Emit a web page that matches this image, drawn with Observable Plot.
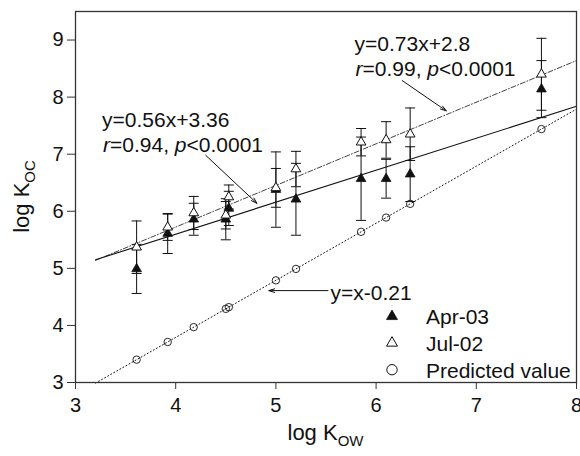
<!DOCTYPE html>
<html><head><meta charset="utf-8">
<script src="https://cdn.jsdelivr.net/npm/d3@7"></script>
<script src="https://cdn.jsdelivr.net/npm/@observablehq/plot@0.6"></script>
<style>
body{margin:0;background:#fff;}
#chart svg{display:block;font-family:"Liberation Sans",Arial,Helvetica,sans-serif;}
</style></head><body><div id="chart"></div>
<script>
// ---- data ----
const logKow    = [3.61, 3.92, 4.18, 4.50, 4.53, 5.00, 5.20, 5.85, 6.10, 6.34, 7.65];
const apr03     = [4.99, 5.61, 5.86, 5.86, 6.05, 6.38, 6.21, 6.57, 6.57, 6.65, 8.14];
const apr03Err  = [0.43, 0.35, 0.28, 0.36, 0.30, 0.66, 0.63, 0.73, 0.34, 0.48, 0.50];
const jul02     = [5.37, 5.72, 5.97, 5.93, 6.25, 6.41, 6.74, 7.21, 7.25, 7.35, 8.40];
const jul02Err  = [0.46, 0.23, 0.29, 0.24, 0.21, 0.34, 0.31, 0.24, 0.32, 0.46, 0.63];
const predicted = [3.40, 3.71, 3.97, 4.29, 4.32, 4.79, 4.99, 5.64, 5.89, 6.13, 7.44];

const fitX       = [3.2, 8];
const fitApr03   = [5.15, 7.84];
const fitJul02   = [5.14, 8.64];
const fitPred    = [2.99, 7.79];

const xTicks = [3, 4, 5, 6, 7, 8];
const yTicks = [3, 4, 5, 6, 7, 8, 9];

const seriesNames = ["Apr-03", "Jul-02", "Predicted value"];

// annotation arrows (data coordinates)
const arrowX1 = [4.30, 6.26, 5.52];
const arrowY1 = [6.98, 8.29, 4.61];
const arrowX2 = [4.81, 6.70, 4.93];
const arrowY2 = [6.14, 7.76, 4.61];

// annotation texts (left x, baseline y of first line)
const annX = [3.27, 5.79, 5.55];
const annY = [7.47, 8.80, 4.44];
const annEq = ["y=0.56x+3.36", "y=0.73x+2.8", "y=x-0.21"];
const annStat = [
  [["r", true], ["=0.94, ", false], ["p", true], ["<0.0001", false]],
  [["r", true], ["=0.99, ", false], ["p", true], ["<0.0001", false]],
  null
];

// ---- tables built from arrays ----
const aprRows = logKow.map((x, i) => ({x, y: apr03[i], lo: apr03[i] - apr03Err[i], hi: apr03[i] + apr03Err[i]}));
const julRows = logKow.map((x, i) => ({x, y: jul02[i], lo: jul02[i] - jul02Err[i], hi: jul02[i] + jul02Err[i]}));
const predRows = logKow.map((x, i) => ({x, y: predicted[i]}));
const aprFit = fitX.map((x, i) => ({x, y: fitApr03[i]}));
const julFit = fitX.map((x, i) => ({x, y: fitJul02[i]}));
const predFit = fitX.map((x, i) => ({x, y: fitPred[i]}));
const arrows = arrowX1.map((x1, i) => ({x1, y1: arrowY1[i], x2: arrowX2[i], y2: arrowY2[i]}));

const ink = "#111";
const capSymbol = {draw(ctx) { ctx.moveTo(-5, 0); ctx.lineTo(5, 0); }};
const errMarks = rows => [
  Plot.ruleX(rows, {x: "x", y1: "lo", y2: "hi", stroke: ink, strokeWidth: 1}),
  Plot.dot(rows, {x: "x", y: "lo", symbol: capSymbol, r: 5, fill: "none", stroke: ink, strokeWidth: 1}),
  Plot.dot(rows, {x: "x", y: "hi", symbol: capSymbol, r: 5, fill: "none", stroke: ink, strokeWidth: 1})
];

const plot = Plot.plot({
  width: 580, height: 456,
  marginLeft: 75, marginRight: 4, marginTop: 11, marginBottom: 74,
  style: {fontFamily: '"Liberation Sans",Arial,Helvetica,sans-serif', fontSize: "20px", color: ink, background: "#fff"},
  x: {domain: [3, 8]},
  y: {domain: [3, 9.5]},
  marks: [
    Plot.line(predFit, {x: "x", y: "y", stroke: ink, strokeWidth: 1, strokeDasharray: "1,2.5"}),
    Plot.line(julFit, {x: "x", y: "y", stroke: ink, strokeWidth: 0.8, strokeDasharray: "5,2,1,2"}),
    Plot.line(aprFit, {x: "x", y: "y", stroke: ink, strokeWidth: 1.1}),
    ...errMarks(aprRows),
    ...errMarks(julRows),
    Plot.dot(aprRows, {x: "x", y: "y", symbol: "triangle", r: 3.6, fill: ink, stroke: ink, strokeWidth: 0.8}),
    Plot.dot(julRows, {x: "x", y: "y", symbol: "triangle", r: 3.6, fill: "white", stroke: ink, strokeWidth: 1}),
    Plot.dot(predRows, {x: "x", y: "y", r: 3.7, fill: "none", stroke: ink, strokeWidth: 0.9}),
    Plot.arrow(arrows, {x1: "x1", y1: "y1", x2: "x2", y2: "y2", stroke: ink, strokeWidth: 1, headLength: 9, headAngle: 35}),
    Plot.axisX(xTicks, {tickSize: 7, tickPadding: 8, label: null, fontSize: 20, stroke: "#333", tickFormat: d3.format("d")}),
    Plot.axisY(yTicks, {tickSize: 8, tickPadding: 4, label: null, fontSize: 20, stroke: "#333", tickFormat: d3.format("d")}),
    Plot.frame({stroke: "#333", strokeWidth: 1.3})
  ]
});

document.getElementById("chart").appendChild(plot);

// ---- rich text overlays positioned through the plot's scales ----
(function () {
  const sx = plot.scale("x"), sy = plot.scale("y");
  const X = v => sx.apply(v), Y = v => sy.apply(v);
  const svg = d3.select(plot);
  const [x0, x1] = sx.range;
  const [yBottom, yTop] = sy.range;
  const font = '"Liberation Sans",Arial,Helvetica,sans-serif';

  // annotations
  annX.forEach((ax, i) => {
    const t = svg.append("text").attr("x", X(ax)).attr("y", Y(annY[i]))
      .attr("text-anchor", "start")
      .attr("font-family", font).attr("font-size", 21).attr("fill", ink);
    t.append("tspan").text(annEq[i]);
    if (annStat[i]) {
      annStat[i].forEach(([s, it], j) => {
        const sp = t.append("tspan").text(s).attr("font-style", it ? "italic" : "normal");
        if (j === 0) sp.attr("x", X(ax) + 1).attr("dy", 25);
      });
    }
  });

  // axis titles
  const xt = svg.append("text").attr("x", (x0 + x1) / 2).attr("y", yBottom + 58)
    .attr("text-anchor", "middle").attr("font-family", font).attr("font-size", 22).attr("fill", ink);
  xt.append("tspan").text("log K");
  xt.append("tspan").text("OW").attr("font-size", 15).attr("dy", 6);

  const yt = svg.append("text").attr("transform", `translate(29,${(yTop + yBottom) / 2}) rotate(-90)`)
    .attr("text-anchor", "middle").attr("font-family", font).attr("font-size", 22).attr("fill", ink);
  yt.append("tspan").text("log K");
  yt.append("tspan").text("OC").attr("font-size", 15).attr("dy", 6);

  // legend (bottom-right inside frame)
  const lg = svg.append("g").attr("font-family", font).attr("font-size", 21).attr("fill", ink).attr("text-anchor", "start");
  const rowsY = [yBottom - 65.6, yBottom - 39, yBottom - 12.3];
  const symX = x1 - 184, txtX = x1 - 150;
  const tri = d3.symbol(d3.symbolTriangle, 52)();
  seriesNames.forEach((name, i) => {
    const cy = rowsY[i];
    if (i === 0) lg.append("path").attr("d", tri).attr("transform", `translate(${symX},${cy})`).attr("fill", ink).attr("stroke", ink).attr("stroke-width", 0.8);
    else if (i === 1) lg.append("path").attr("d", tri).attr("transform", `translate(${symX},${cy})`).attr("fill", "white").attr("stroke", ink).attr("stroke-width", 1);
    else lg.append("circle").attr("cx", symX).attr("cy", cy).attr("r", 5.2).attr("fill", "none").attr("stroke", ink).attr("stroke-width", 1);
    lg.append("text").attr("x", txtX).attr("y", cy + 8).attr("text-anchor", "start").text(name);
  });
})();
</script></body></html>
